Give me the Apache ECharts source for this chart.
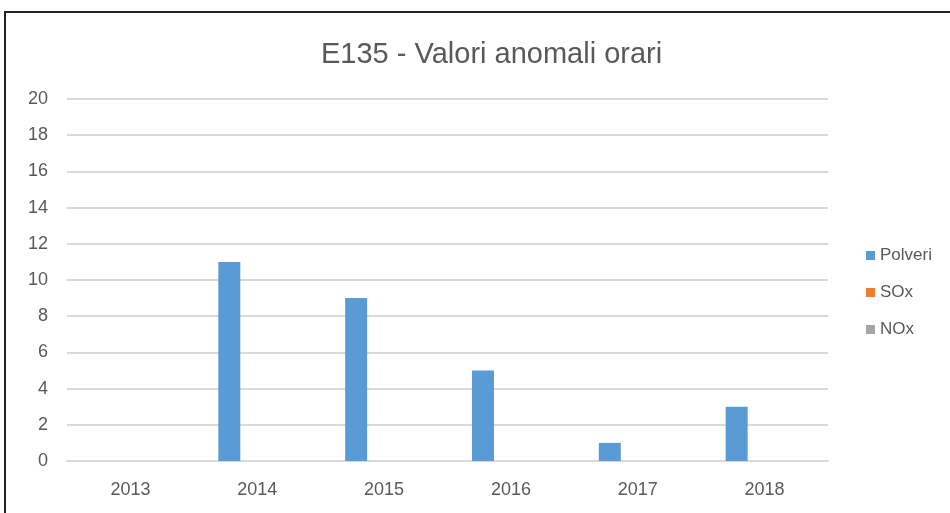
<!DOCTYPE html>
<html><head><meta charset="utf-8">
<script src="https://cdn.jsdelivr.net/npm/echarts@6/dist/echarts.min.js"></script>
<style>html,body{margin:0;padding:0;background:#fff}#c{width:950px;height:513px}</style>
</head><body><div id="c"></div>
<script>
const categories = ['2013','2014','2015','2016','2017','2018'];
const polveri = [0, 11, 9, 5, 1, 3];
const sox = [0, 0, 0, 0, 0, 0];
const nox = [0, 0, 0, 0, 0, 0];
const yTicks = {min: 0, max: 20, interval: 2};

const chart = echarts.init(document.getElementById('c'));
const font = "'Liberation Sans', 'Open Sans', sans-serif";
chart.setOption({
  animation: false,
  textStyle: {fontFamily: font},
  title: {text: 'E135 - Valori anomali orari', left: 316, top: 35,
    textStyle: {fontSize: 29, fontWeight: 'normal', color: '#595959', fontFamily: font}},
  graphic: [{type: 'rect', shape: {x: 5, y: 12, width: 960, height: 520},
    style: {fill: 'none', stroke: '#222', lineWidth: 2}, silent: true}],
  legend: {orient: 'vertical', left: 861, top: 242, itemGap: 20, itemWidth: 9, itemHeight: 9,
    icon: 'rect', textStyle: {fontSize: 17, color: '#595959', fontFamily: font}},
  grid: {left: 67, right: 122, top: 99, bottom: 52, containLabel: false},
  xAxis: {type: 'category', data: categories,
    axisLine: {show: true, lineStyle: {color: '#d9d9d9', width: 2}},
    axisTick: {show: false},
    axisLabel: {fontSize: 18, color: '#595959', margin: 20}},
  yAxis: {type: 'value', min: yTicks.min, max: yTicks.max, interval: yTicks.interval,
    axisLine: {show: false}, axisTick: {show: false},
    axisLabel: {fontSize: 18, color: '#595959', margin: 19}},
  series: [
    {name: 'Polveri', type: 'bar', data: polveri, itemStyle: {color: '#5b9bd5'}, barWidth: 22, barGap: '27%', barCategoryGap: '38%'},
    {name: 'SOx', type: 'bar', data: sox, itemStyle: {color: '#ed7d31'}, barWidth: 22},
    {name: 'NOx', type: 'bar', data: nox, itemStyle: {color: '#a5a5a5'}, barWidth: 22}
  ]
});
chart.setOption({yAxis: {splitLine: {lineStyle: {color: '#d9d9d9', width: 2}}}});
</script></body></html>
